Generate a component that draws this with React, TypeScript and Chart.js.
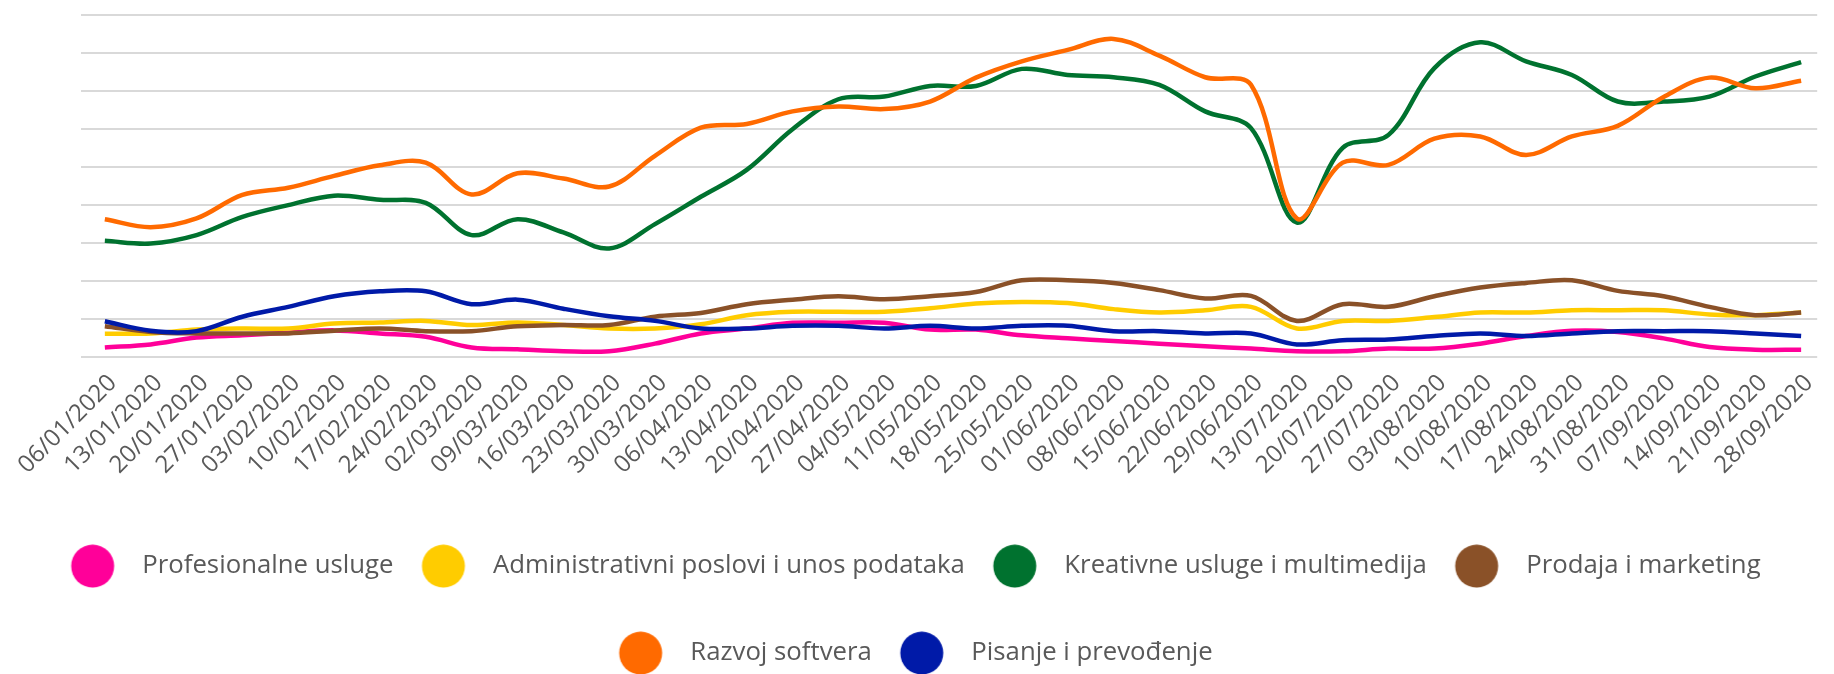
import React, { useEffect, useRef } from "react";
import { Chart, registerables } from "chart.js";

Chart.register(...registerables);

const dateLabels = [
  "06/01/2020", "13/01/2020", "20/01/2020", "27/01/2020", "03/02/2020", "10/02/2020",
  "17/02/2020", "24/02/2020", "02/03/2020", "09/03/2020", "16/03/2020", "23/03/2020",
  "30/03/2020", "06/04/2020", "13/04/2020", "20/04/2020", "27/04/2020", "04/05/2020",
  "11/05/2020", "18/05/2020", "25/05/2020", "01/06/2020", "08/06/2020", "15/06/2020",
  "22/06/2020", "29/06/2020", "13/07/2020", "20/07/2020", "27/07/2020", "03/08/2020",
  "10/08/2020", "17/08/2020", "24/08/2020", "31/08/2020", "07/09/2020", "14/09/2020",
  "21/09/2020", "28/09/2020",
];

const seriesNames = [
  "Profesionalne usluge",
  "Administrativni poslovi i unos podataka",
  "Kreativne usluge i multimedija",
  "Prodaja i marketing",
  "Razvoj softvera",
  "Pisanje i prevođenje",
];

const seriesColors = ["#FF0099", "#FFCC00", "#00722F", "#8A5128", "#FF6A00", "#001AA8"];

const profesionalne = [
  24, 32, 50, 56, 63, 69, 61, 52, 24, 19, 14, 14, 34, 61, 74, 89, 89, 89, 71, 71,
  56, 48, 41, 34, 27, 21, 14, 14, 21, 21, 34, 54, 68, 65, 48, 25, 18, 18,
];
const administrativni = [
  60, 61, 71, 74, 74, 87, 90, 94, 83, 90, 83, 74, 74, 85, 109, 118, 118, 118, 127, 140,
  144, 141, 125, 116, 122, 131, 74, 94, 94, 104, 116, 116, 122, 122, 122, 111, 109, 116,
];
const kreativne = [
  305, 298, 320, 368, 399, 424, 413, 405, 320, 362, 327, 285, 349, 421, 492, 599, 678, 685, 713, 713,
  758, 742, 736, 716, 646, 602, 353, 550, 584, 760, 828, 778, 742, 672, 672, 685, 738, 776,
];
const prodaja = [
  80, 65, 61, 61, 61, 68, 74, 67, 67, 80, 83, 83, 105, 115, 138, 150, 159, 151, 159, 170,
  201, 201, 194, 175, 153, 160, 94, 138, 131, 159, 182, 194, 201, 173, 159, 131, 109, 116,
];
const razvoj = [
  362, 341, 364, 426, 445, 476, 504, 511, 427, 483, 469, 448, 529, 603, 613, 646, 659, 652, 672, 735,
  778, 808, 837, 793, 736, 716, 364, 511, 505, 574, 580, 531, 580, 608, 684, 735, 707, 727,
];
const pisanje = [
  93, 68, 67, 105, 131, 159, 172, 172, 138, 150, 126, 106, 94, 74, 74, 81, 81, 74, 81, 74,
  81, 81, 67, 67, 61, 61, 32, 43, 45, 54, 61, 54, 61, 67, 67, 67, 61, 54,
];

const seriesValues = [profesionalne, administrativni, kreativne, prodaja, razvoj, pisanje];

function circleImage(color: string): HTMLCanvasElement {
  const c = document.createElement("canvas");
  c.width = 96;
  c.height = 44;
  const ctx = c.getContext("2d");
  if (ctx) {
    ctx.fillStyle = color;
    ctx.beginPath();
    ctx.arc(24, 22, 21.5, 0, Math.PI * 2);
    ctx.fill();
  }
  return c;
}

export default function App() {
  const canvasRef = useRef<HTMLCanvasElement | null>(null);

  useEffect(() => {
    document.body.style.margin = "0";
    const canvas = canvasRef.current;
    if (!canvas) return;
    const images = seriesColors.map((c) => circleImage(c));

    const datasets = seriesNames.map((name, k) => ({
      label: name,
      data: seriesValues[k].map((v, i) => ({ x: i, y: v })),
      borderColor: seriesColors[k],
      backgroundColor: seriesColors[k],
      borderWidth: 4.5,
      pointRadius: 0,
      pointHoverRadius: 0,
      tension: 0.35,
      fill: false,
      order: seriesNames.length - 1 - k,
    }));

    const chart = new Chart(canvas, {
      type: "line",
      data: { datasets },
      options: {
        animation: false,
        responsive: false,
        devicePixelRatio: 1,
        layout: { padding: { top: 15, left: 30.6, right: 0, bottom: -2 } },
        plugins: {
          tooltip: { enabled: false },
          legend: {
            position: "bottom",
            labels: {
              usePointStyle: true,
              pointStyleWidth: 25.375,
              padding: 61.25,
              color: "#595959",
              font: { family: "'Open Sans'", size: 25.75 },
              generateLabels: (ch: any) => {
                const items = Chart.defaults.plugins.legend.labels.generateLabels(ch);
                items.sort((a: any, b: any) => a.datasetIndex - b.datasetIndex);
                return items.map((it: any) => ({ ...it, pointStyle: images[it.datasetIndex] }));
              },
            },
          },
        },
        scales: {
          x: {
            type: "linear",
            min: -0.52,
            max: 37.35,
            grid: { display: false, drawTicks: false },
            border: { display: false },
            afterBuildTicks: (axis: any) => {
              axis.ticks = dateLabels.map((_, i) => ({ value: i }));
            },
            ticks: {
              autoSkip: false,
              maxRotation: 45,
              minRotation: 45,
              padding: 12.5,
              labelOffset: 8,
              color: "#595959",
              font: { family: "'Open Sans'", size: 24 },
              callback: (v: any) => dateLabels[Number(v)] ?? "",
            },
          },
          y: {
            min: 0,
            max: 900,
            afterFit: (scale: any) => {
              scale.width = 50.4;
            },
            grid: { color: "#D9D9D9", lineWidth: 2, drawTicks: false },
            border: { display: false },
            ticks: { display: false, stepSize: 100 },
          },
        },
      },
    });

    return () => chart.destroy();
  }, []);

  return (
    <div style={{ width: 1834, height: 674 }}>
      <canvas ref={canvasRef} width={1834} height={674} style={{ display: "block" }} />
    </div>
  );
}
